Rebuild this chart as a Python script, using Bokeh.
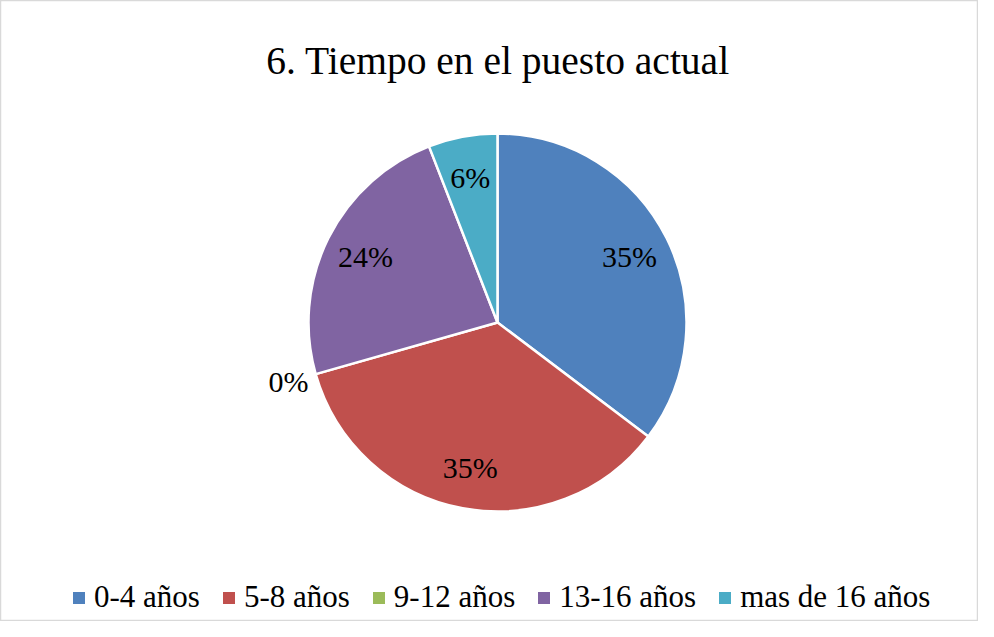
import numpy as np
from bokeh.plotting import figure
from bokeh.models import Range1d, Legend, LegendItem, Label, ColumnDataSource
from bokeh.core.properties import value
from bokeh.embed import file_html
from bokeh.resources import INLINE

# ---- data ----
title_text = "6. Tiempo en el puesto actual"
categories = ["0-4 años", "5-8 años", "9-12 años", "13-16 años", "mas de 16 años"]
values = [35.3, 35.3, 0.0, 23.5, 5.9]
pct_labels = ["35%", "35%", "0%", "24%", "6%"]
colors = ["#4F81BD", "#C0504D", "#9BBB59", "#8064A2", "#4BACC6"]

FONT = "Liberation Serif"
W, H = 978, 621
# data coordinates: x = pixel, y = -pixel
p = figure(width=W, height=H, x_range=Range1d(0, W), y_range=Range1d(-H, 0),
           output_backend="svg", toolbar_location=None, min_border=0,
           x_axis_type=None, y_axis_type=None)
p.grid.visible = False
p.outline_line_color = "#d9d9d9"
p.outline_line_width = 1.5
p.background_fill_color = "white"
p.border_fill_color = "white"

cx, cy, R = 497.0, -322.0, 189.0

vals = np.array(values, dtype=float)
total = vals.sum()
cum = np.cumsum(vals)
start = np.pi / 2 - 2 * np.pi * (cum - vals) / total
end = np.pi / 2 - 2 * np.pi * cum / total
mid = (start + end) / 2

nz = vals > 0
wsrc = ColumnDataSource(dict(start=start[nz], end=end[nz], color=[c for c, k in zip(colors, nz) if k]))
p.wedge(x=cx, y=cy, radius=R, start_angle="start", end_angle="end", direction="clock",
        fill_color="color", line_color="white", line_width=2.5, source=wsrc)

rr = np.where(nz, 0.78 * R, 1.15 * R)
lsrc = ColumnDataSource(dict(x=cx + rr * np.cos(mid), y=cy + rr * np.sin(mid), t=pct_labels))
p.text(x="x", y="y", text="t", source=lsrc, text_align="center", text_baseline="middle",
       text_font=value(FONT), text_font_size="30px", text_color="black")

p.add_layout(Label(x=497.5, y=-60, text=title_text, text_align="center",
                   text_baseline="alphabetic", text_font=FONT, text_font_size="39.5px",
                   text_color="black"))

# legend
legsrc = ColumnDataSource(dict(x=[cx] * 5, y=[cy] * 5, color=colors))
rl = p.rect(x="x", y="y", width=0, height=0, fill_color="color", line_alpha=0, source=legsrc)
items = [LegendItem(label=c, renderers=[rl], index=i) for i, c in enumerate(categories)]
legend = Legend(items=items, orientation="horizontal", location=(71, 6),
                glyph_width=15, glyph_height=15, label_standoff=8, spacing=21,
                padding=0, margin=0, border_line_alpha=0, background_fill_alpha=0,
                label_text_font=FONT, label_text_font_size="31px", label_text_color="black")
p.add_layout(legend)

open("out.html", "w").write(file_html(p, INLINE))
